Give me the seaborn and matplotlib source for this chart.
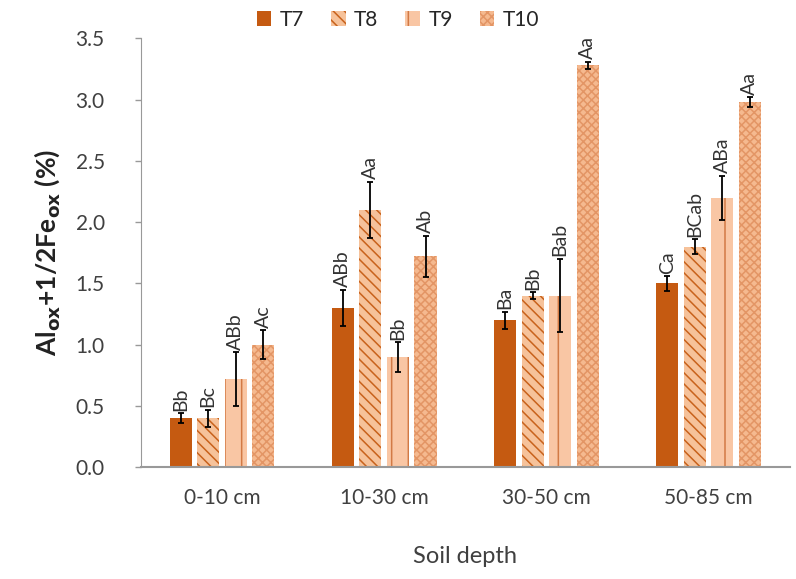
import matplotlib
matplotlib.use("Agg")
import matplotlib.pyplot as plt
import matplotlib.patches as mpatches
import seaborn as sns
import pandas as pd
import numpy as np

depths = ["0-10 cm", "10-30 cm", "30-50 cm", "50-85 cm"]
treatments = ["T7", "T8", "T9", "T10"]

t7 = [0.40, 1.30, 1.20, 1.50]
t8 = [0.40, 2.10, 1.40, 1.80]
t9 = [0.72, 0.90, 1.40, 2.20]
t10 = [1.00, 1.72, 3.28, 2.98]

t7_err = [0.04, 0.15, 0.07, 0.06]
t8_err = [0.07, 0.23, 0.03, 0.06]
t9_err = [0.22, 0.12, 0.30, 0.18]
t10_err = [0.12, 0.17, 0.03, 0.04]

t7_lab = ["Bb", "ABb", "Ba", "Ca"]
t8_lab = ["Bc", "Aa", "Bb", "BCab"]
t9_lab = ["ABb", "Bb", "Bab", "ABa"]
t10_lab = ["Ac", "Ab", "Aa", "Aa"]

values = [t7, t8, t9, t10]
errors = [t7_err, t8_err, t9_err, t10_err]
letters = [t7_lab, t8_lab, t9_lab, t10_lab]

df = pd.DataFrame({
    "depth": np.tile(depths, 4),
    "treatment": np.repeat(treatments, 4),
    "value": np.concatenate(values),
})

sns.set_style("white")
plt.rcParams["font.family"] = ["Lato", "DejaVu Sans"]
plt.rcParams["hatch.linewidth"] = 1.1

faces = ["#c55a11", "#f6c29a", "#f9c6a4", "#f5b98f"]
hatch_cols = ["#c55a11", "#c8621c", "#d27a45", "#e39565"]
hatches = [None, "\\\\\\", "|", "xxxx"]

fig = plt.figure(figsize=(7.96, 5.79), dpi=100)
ax = fig.add_axes([0.177, 0.193, 0.815, 0.741])

sns.barplot(data=df, x="depth", y="value", hue="treatment", order=depths,
            hue_order=treatments, width=0.68, gap=0.2, ax=ax, legend=False,
            palette=faces, saturation=1, errorbar=None)

bars = [p for p in ax.patches if isinstance(p, mpatches.Rectangle)]
bars = sorted(bars, key=lambda b: b.get_x())
for k, bar in enumerate(bars):
    j, i = divmod(k, 4)   # j: depth index, i: treatment index
    bar.set_facecolor(faces[i])
    bar.set_edgecolor(hatch_cols[i])
    bar.set_linewidth(0)
    if hatches[i]:
        bar.set_hatch(hatches[i])
    cx = bar.get_x() + bar.get_width() / 2
    v = values[i][j]
    e = errors[i][j]
    ax.errorbar(cx, v, yerr=e, fmt="none", ecolor="black",
                elinewidth=1.3, capsize=2.5, capthick=1.3, zorder=5)
    ax.text(cx, v + e + 0.02, letters[i][j], rotation=90,
            ha="center", va="bottom", fontsize=14, color="#333333")

ax.set_ylim(0, 3.5)
ax.set_xlim(-0.5, 3.5)
ax.set_yticks(np.arange(0, 3.51, 0.5))
ax.set_yticklabels([f"{t:.1f}" for t in np.arange(0, 3.51, 0.5)],
                   fontsize=15, color="#404040")
ax.tick_params(axis="x", labelsize=15, colors="#404040", length=0, pad=15)
ax.tick_params(axis="y", left=True, length=4, width=1, color="#999999", pad=22)
for s in ["top", "right"]:
    ax.spines[s].set_visible(False)
ax.spines["left"].set_color("#999999")
ax.spines["bottom"].set_color("#999999")
ax.spines["bottom"].set_linewidth(1.5)

ax.set_xlabel("Soil depth", fontsize=17, color="#404040", labelpad=27)
ax.set_ylabel(r"Al$_{\mathbf{ox}}$+1/2Fe$_{\mathbf{ox}}$ (%)", fontsize=19,
              fontweight="bold", color="#222222", labelpad=10)

handles = []
for i, t in enumerate(treatments):
    p = mpatches.Patch(facecolor=faces[i], edgecolor=hatch_cols[i],
                       hatch=hatches[i], linewidth=0, label=t)
    handles.append(p)
fig.legend(handles=handles, loc="upper center", bbox_to_anchor=(0.5, 1.015),
           ncol=4, frameon=False, fontsize=15, handlelength=0.7,
           handleheight=0.7, columnspacing=1.3, handletextpad=0.4)

fig.savefig("out.png", dpi=100)
